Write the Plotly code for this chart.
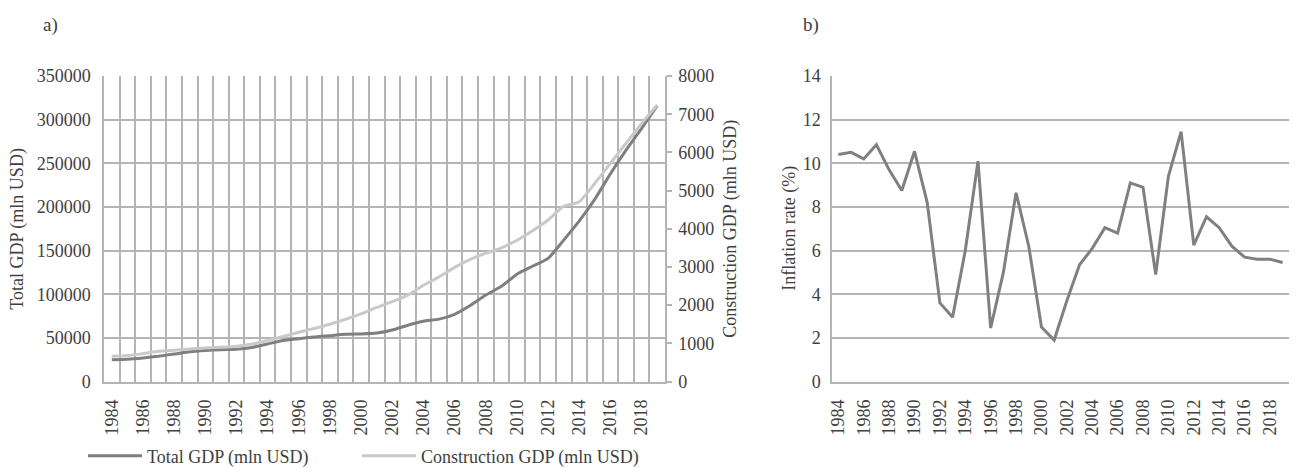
import plotly.graph_objects as go

years = list(range(1984, 2020))
total_gdp = [25000, 25500, 27000, 29000, 31500, 34000, 35500, 36500, 37000, 39000,
             43000, 47000, 49000, 51000, 52500, 54000, 54500, 55500, 59000, 64500,
             69000, 71500, 77000, 87000, 99000, 109000, 123000, 132000, 141000, 162000,
             184000, 209000, 238000, 265000, 290000, 316000]
construction_gdp = [660, 680, 730, 790, 820, 850, 880, 900, 925, 980,
                    1075, 1180, 1290, 1390, 1500, 1630, 1770, 1940, 2090, 2260,
                    2520, 2740, 2990, 3200, 3360, 3500, 3700, 3950, 4230, 4590,
                    4710, 5190, 5715, 6240, 6760, 7240]
inflation = [10.4, 10.5, 10.2, 10.85, 9.7, 8.75, 10.55, 8.2, 3.6, 2.95,
             6.0, 10.1, 2.45, 5.0, 8.65, 6.2, 2.5, 1.9, 3.7, 5.35,
             6.1, 7.05, 6.8, 9.1, 8.9, 4.9, 9.4, 11.45, 6.25, 7.55,
             7.05, 6.2, 5.7, 5.6, 5.6, 5.45]
tick_years = list(range(1984, 2020, 2))
tick_labels = [str(y) for y in tick_years]
boundaries = [y - 0.5 for y in range(1984, 2021)]

W, H = 1299, 468
FONT = "'Liberation Serif', 'Times New Roman', 'DejaVu Serif', serif"
TXT = "#404040"
GRID = "#b4b4b4"
GW = 1.5
FS = 18

def px(x):
    return x / W

def py(y):
    return (H - y) / H

fig = go.Figure()
fig.add_trace(go.Scatter(x=years, y=total_gdp, name="Total GDP (mln USD)", mode="lines",
                         line=dict(color="#7f7f7f", width=3, shape="spline", smoothing=0.5),
                         xaxis="x", yaxis="y", legend="legend"))
fig.add_trace(go.Scatter(x=years, y=construction_gdp, name="Construction GDP (mln USD)", mode="lines",
                         line=dict(color="#c9c9c9", width=3, shape="spline", smoothing=0.5),
                         xaxis="x", yaxis="y2", legend="legend2"))
fig.add_trace(go.Scatter(x=years, y=inflation, name="Inflation rate (%)", mode="lines",
                         line=dict(color="#808080", width=3), showlegend=False,
                         xaxis="x2", yaxis="y3"))

ydom = [py(381.5), py(76)]
common_x = dict(range=[1983.5, 2019.5], tickmode="array", tickvals=tick_years, ticktext=tick_labels,
                tickangle=-90, showgrid=False, zeroline=False, showline=True, linecolor=GRID,
                linewidth=GW, ticks="", ticklabelstandoff=9, automargin=False)

legend_common = dict(orientation="h", yanchor="middle", itemwidth=54,
                     font=dict(family=FONT, size=FS, color=TXT), bgcolor="rgba(0,0,0,0)")

fig.update_layout(
    width=W, height=H,
    margin=dict(l=0, r=0, t=0, b=0, autoexpand=False),
    paper_bgcolor="white", plot_bgcolor="white",
    font=dict(family=FONT, size=FS, color=TXT),
    xaxis=dict(domain=[px(104), px(665)], anchor="y",
               minor=dict(tickmode="array", tickvals=boundaries, showgrid=True,
                          gridcolor=GRID, gridwidth=GW, ticks=""),
               **common_x),
    yaxis=dict(domain=ydom, anchor="x", range=[0, 350000], dtick=50000, tickformat="d",
               showgrid=True, gridcolor=GRID, gridwidth=GW, zeroline=False, automargin=False,
               showline=True, linecolor=GRID, linewidth=GW, ticks="", ticklabelstandoff=8),
    yaxis2=dict(overlaying="y", side="right", anchor="x", range=[0, 8000], dtick=1000,
                tickformat="d", showgrid=False, zeroline=False, showline=True, automargin=False,
                linecolor=GRID, linewidth=GW, ticks="outside", ticklen=5,
                tickcolor=GRID, tickwidth=GW, ticklabelstandoff=3),
    xaxis2=dict(domain=[px(832), px(1289)], anchor="y3", **common_x),
    yaxis3=dict(domain=ydom, anchor="x2", range=[0, 14], dtick=2, automargin=False,
                showgrid=True, gridcolor=GRID, gridwidth=GW, zeroline=False,
                showline=True, linecolor=GRID, linewidth=GW, ticks="", ticklabelstandoff=6),
    legend=dict(x=px(83), y=py(456), xanchor="left", **legend_common),
    legend2=dict(x=px(357), y=py(456), xanchor="left", **legend_common),
    showlegend=True,
    annotations=[
        dict(text="a)", x=px(41), y=py(25), xref="paper", yref="paper", xanchor="left",
             yanchor="middle", showarrow=False, font=dict(family=FONT, size=FS + 1)),
        dict(text="b)", x=px(801), y=py(25), xref="paper", yref="paper", xanchor="left",
             yanchor="middle", showarrow=False, font=dict(family=FONT, size=FS + 1)),
        dict(text="Total GDP (mln USD)", x=px(18), y=py(228.7), xref="paper", yref="paper",
             xanchor="center", yanchor="middle", textangle=-90, showarrow=False),
        dict(text="Construction GDP (mln USD)", x=px(731), y=py(228.7), xref="paper", yref="paper",
             xanchor="center", yanchor="middle", textangle=-90, showarrow=False),
        dict(text="Inflation rate (%)", x=px(790), y=py(228.7), xref="paper", yref="paper",
             xanchor="center", yanchor="middle", textangle=-90, showarrow=False),
    ],
)

fig.write_html("out.html", config={"displayModeBar": False},
               post_script="document.body.style.margin='0px';")
